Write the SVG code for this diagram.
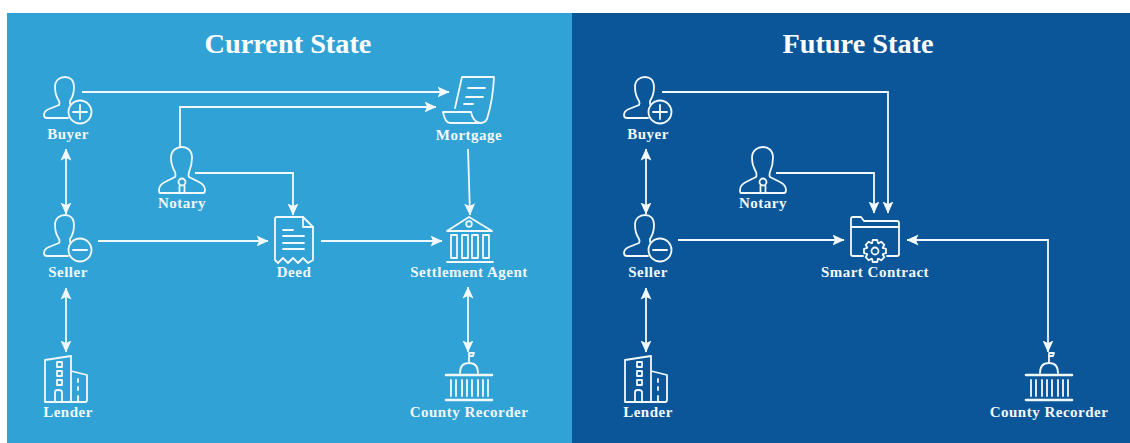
<svg xmlns="http://www.w3.org/2000/svg" width="1130" height="443" viewBox="0 0 1130 443">
<style>
text{font-family:"Liberation Serif","Times New Roman",serif;font-weight:700;fill:#f2f9fd;text-anchor:middle}
.title{font-size:28.3px;fill:#fff}
.label{font-size:15px;letter-spacing:.5px}
.ic{fill:none;stroke:#f2f9fd;stroke-width:1.8;stroke-linecap:round;stroke-linejoin:round}
.cn{fill:none;stroke:#f2f9fd;stroke-width:1.8}
.arrow{marker-end:url(#ah)}
.both{marker-start:url(#ah);marker-end:url(#ah)}
</style>
<defs>
<marker id="ah" viewBox="0 0 12 12" refX="11.5" refY="6" markerWidth="12" markerHeight="12" markerUnits="userSpaceOnUse" orient="auto-start-reverse">
<path d="M0,.5L12,6L0,11.5L2.5,6Z" fill="#f2f9fd"/>
</marker>
<g id="person" class="ic">
<path d="M3,41H-18Q-21,41 -21,38Q-21,34 -16,32L-6,28Q-5,26 -6,24Q-10,18 -10,10C-10,3 -5,0 0,0C5,0 9,3 9,10Q9,18 5,24L5,27"/>
</g>
<g id="notary" class="ic">
<path d="M-22,46Q-23,46 -23,43Q-23,38 -17,35L-7,30Q-6,28 -7,25Q-11,18 -11,11C-11,3 -5,0 0,0C5,0 10,3 10,11Q10,18 7,25Q6,28 7,30L17,35Q23,38 23,43Q23,46 21,46Z"/>
<circle cx="0" cy="35" r="3.5"/>
<path d="M-2.5,39V46M2.5,39V46"/>
</g>
<g id="bank" class="ic">
<path d="M447,231L469,217L492,231ZM447,262H493"/>
<circle cx="469" cy="224" r="2.8"/>
<rect x="451" y="235" width="6" height="23"/><rect x="462" y="235" width="6" height="23"/><rect x="472" y="235" width="6" height="23"/><rect x="483" y="235" width="6" height="23"/>
</g>
<g id="lenderIcon" class="ic">
<path d="M45,402V360L71,356V402ZM71,371L87,375V400Q87,402 85,402H71"/>
<rect x="57" y="362" width="5" height="5"/><rect x="57" y="371" width="5" height="5"/><rect x="57" y="380" width="5" height="5"/>
<path d="M55,402V392Q55,390 58,390Q62,390 62,392V402M78,379V382M78,387V390M78,396V402"/>
</g>
<g id="countyIcon" class="ic">
<path d="M446,375H492M446,400H492" stroke-width="2.6"/>
<path d="M460,373Q460,363 469,363Q478,363 478,373M469,363V353M469,353H474L473,356H469"/>
<path d="M451,380V396M456,380V396M462,380V396M467,380V396M472,380V396M478,380V396M483,380V396M488,380V396"/>
</g>
<path id="tooth" d="M-3,-8L-2.2,-11H2.2L3,-8L3.54,-7.78"/>
</defs>

<rect width="1130" height="443" fill="#fff"/>
<rect x="7" y="13" width="565" height="430" fill="#31A2D5"/>
<rect x="572" y="13" width="558" height="430" fill="#0B5699"/>
<text class="title" x="288" y="53">Current State</text>
<text class="title" x="858" y="53">Future State</text>

<g id="connectors">
<path class="cn arrow" d="M82,92H449"/>
<path class="cn arrow" d="M180,147V107H436"/>
<path class="cn arrow" d="M195,173H293V215"/>
<path class="cn both" d="M66,149V214"/>
<path class="cn arrow" d="M98,241H268"/>
<path class="cn arrow" d="M321,241H442"/>
<path class="cn arrow" d="M468,149L470,215"/>
<path class="cn both" d="M66,288V352"/>
<path class="cn both" d="M468,287V352"/>
<path class="cn arrow" d="M662,92H888V213"/>
<path class="cn arrow" d="M776,173H874V213"/>
<path class="cn both" d="M646,149V214"/>
<path class="cn arrow" d="M678,240H844"/>
<path class="cn both" d="M907,240H1048V352"/>
<path class="cn both" d="M646,288V352"/>
</g>

<g id="cs-buyer"><use href="#person" x="65" y="77"/><g class="ic"><circle cx="80" cy="112" r="11.5"/><path d="M73,112H87M80,105V119"/></g><text class="label" x="68" y="139">Buyer</text></g>
<g id="cs-seller"><use href="#person" x="65" y="215"/><g class="ic"><circle cx="80" cy="250" r="11.5"/><path d="M73,250H87"/></g><text class="label" x="68" y="277">Seller</text></g>
<g id="cs-lender"><use href="#lenderIcon"/><text class="label" x="68" y="417">Lender</text></g>
<g id="cs-notary"><use href="#notary" x="182" y="147"/><text class="label" x="182" y="208">Notary</text></g>
<g id="cs-deed"><g class="ic"><path d="M275,219Q275,217 277,217H303L313,227V260L308,263L303,258L298,263L293,258L288,263L283,258L278,263L275,260Z"/><path d="M303,217V227H313M283,230H293M283,236H304M283,243H304M283,249H304"/></g><text class="label" x="294" y="277">Deed</text></g>
<g id="cs-mortgage"><g class="ic"><path d="M455,108L462,77H494Q493,100 487,119Q485,123 480,123H450Q445,123 443,112H471Q473,122 480,123"/><path d="M468,88H485M466,97H483M464,104H473"/></g><text class="label" x="469" y="140">Mortgage</text></g>
<g id="cs-settlement"><use href="#bank"/><text class="label" x="469" y="277">Settlement Agent</text></g>
<g id="cs-county"><use href="#countyIcon"/><text class="label" x="469" y="417">County Recorder</text></g>

<g id="fs-buyer"><use href="#person" x="645" y="77"/><g class="ic"><circle cx="660" cy="112" r="11.5"/><path d="M653,112H667M660,105V119"/></g><text class="label" x="648" y="139">Buyer</text></g>
<g id="fs-seller"><use href="#person" x="645" y="215"/><g class="ic"><circle cx="660" cy="250" r="11.5"/><path d="M653,250H667"/></g><text class="label" x="648" y="277">Seller</text></g>
<g id="fs-lender"><use href="#lenderIcon" x="580"/><text class="label" x="648" y="417">Lender</text></g>
<g id="fs-notary"><use href="#notary" x="763" y="147"/><text class="label" x="763" y="208">Notary</text></g>
<g id="fs-contract"><g class="ic"><path d="M863,256H853Q851,256 851,254V219Q851,217 853,217H861L864,221H897Q899,221 899,223V254Q899,256 897,256H887M851,227H899"/><circle cx="875" cy="251" r="3.5"/>
<g transform="translate(875 251)"><use href="#tooth"/><use href="#tooth" transform="rotate(45)"/><use href="#tooth" transform="rotate(90)"/><use href="#tooth" transform="rotate(135)"/><use href="#tooth" transform="rotate(180)"/><use href="#tooth" transform="rotate(225)"/><use href="#tooth" transform="rotate(270)"/><use href="#tooth" transform="rotate(315)"/></g></g>
<text class="label" x="875" y="277">Smart Contract</text></g>
<g id="fs-county"><use href="#countyIcon" x="580"/><text class="label" x="1049" y="417">County Recorder</text></g>
</svg>
